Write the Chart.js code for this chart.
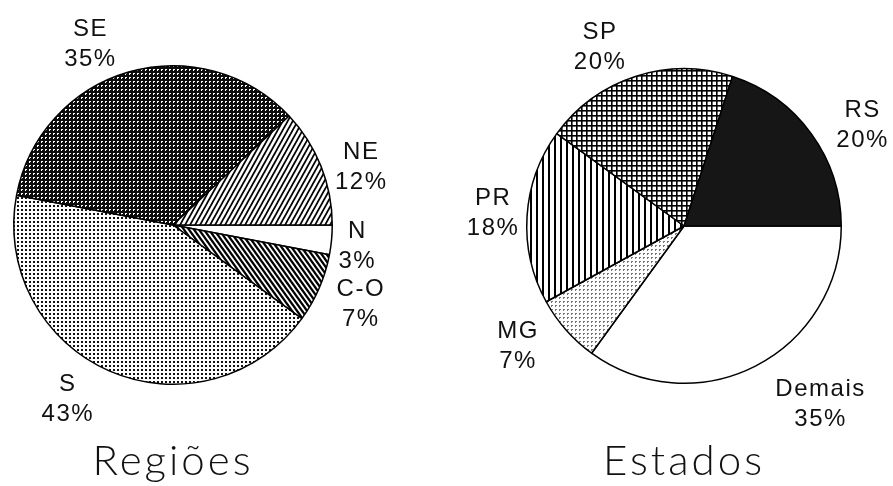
<!DOCTYPE html>
<html>
<head>
<meta charset="utf-8">
<script src="https://cdn.jsdelivr.net/npm/chart.js@4"></script>
<style>
  html, body { margin: 0; padding: 0; background: #fff; }
  #pagina { position: relative; width: 893px; height: 486px; overflow: hidden; }
  canvas { position: absolute; top: 0; }
  #grafico-regioes { left: 0; }
  #grafico-estados { left: 446px; }
</style>
</head>
<body>
<div id="pagina">
  <canvas id="grafico-regioes" width="446" height="486"></canvas>
  <canvas id="grafico-estados" width="447" height="486"></canvas>
</div>
<script>
// Dados (percentuais)
const regioes = ["N", "C-O", "S", "SE", "NE"];
const valoresRegioes = [3, 7, 43, 35, 12];
const estados = ["Demais", "MG", "PR", "SP", "RS"];
const valoresEstados = [35, 7, 18, 20, 20];

// Ajustes finos de posicao dos rotulos (px)
const ajustesRegioes = [[-14, 3], [5, 0], [-26, -8], [-27, 11], [3, 16]];
const ajustesEstados = [[47, 3], [-18, -10], [6, 0], [-23, 9], [19, 15]];

const FONTE_ROTULO = "24px 'Liberation Sans', Arial, sans-serif";
const FONTE_TITULO = "300 42px Lato, 'Liberation Sans', sans-serif";

// Cria um padrao de preenchimento a partir de um ladrilho pequeno
const criarPadrao = (w, h, desenhar) => {
    const ladrilho = document.createElement("canvas");
    ladrilho.width = w;
    ladrilho.height = h;
    const c = ladrilho.getContext("2d");
    c.fillStyle = "#fff";
    c.fillRect(0, 0, w, h);
    desenhar(c, w, h);
    return c.createPattern(ladrilho, "repeat");
};

// Linhas diagonais; sentido 1 = "/", -1 = "\"
const linhasDiagonais = (w, h, espessura, sentido) => criarPadrao(w, h, (c) => {
    c.strokeStyle = "#000";
    c.lineWidth = espessura;
    for (let k = -1; k <= 1; k++) {
        c.beginPath();
        if (sentido > 0) { c.moveTo(k * w - w, 2 * h); c.lineTo(k * w + 2 * w, -h); }
        else { c.moveTo(k * w - w, -h); c.lineTo(k * w + 2 * w, 2 * h); }
        c.stroke();
    }
});

const padroes = {
    // fundo preto com pontinhos brancos
    escuro: criarPadrao(4, 4, (c) => {
        c.fillStyle = "#0d0d0d"; c.fillRect(0, 0, 4, 4);
        c.fillStyle = "#fff"; c.fillRect(1, 1, 2, 1); c.fillRect(1, 2, 1, 1);
    }),
    claro: criarPadrao(4, 4, (c) => { c.fillStyle = "#111"; c.fillRect(1, 1, 2, 2); }),
    cinza: criarPadrao(4, 4, (c) => { c.fillStyle = "#777"; c.fillRect(1, 1, 2, 2); c.fillStyle = "#fff"; c.fillRect(2, 2, 1, 1); }),
    barraNE: linhasDiagonais(5, 9, 1.8, 1),
    barraCO: linhasDiagonais(5, 7, 2.2, -1),
    verticais: criarPadrao(6, 6, (c) => { c.fillStyle = "#000"; c.fillRect(0, 0, 2, 6); }),
    grade: criarPadrao(5, 5, (c) => { c.fillStyle = "#000"; c.fillRect(0, 0, 5, 1.6); c.fillRect(0, 0, 1.6, 5); }),
};

const coresRegioes = ["#fff", padroes.barraCO, padroes.claro, padroes.escuro, padroes.barraNE];
const coresEstados = ["#fff", padroes.cinza, padroes.verticais, padroes.grade, "#161616"];

// Plugin que escreve rotulos e titulo de cada pizza
const rotulosPizza = {
    id: "rotulosPizza",
    afterDraw(chart, args, opts) {
        const ctx = chart.ctx;
        const meta = chart.getDatasetMeta(0);
        const valores = chart.data.datasets[0].data;
        ctx.save();
        ctx.fillStyle = "#111";
        ctx.textAlign = "center";
        ctx.textBaseline = "middle";
        ctx.font = FONTE_ROTULO;
        ctx.letterSpacing = "1.5px";
        let cx = 0;
        meta.data.forEach((arco, i) => {
            const { x, y, startAngle, endAngle, outerRadius } = arco.getProps(["x", "y", "startAngle", "endAngle", "outerRadius"], true);
            cx = x;
            const meio = (startAngle + endAngle) / 2;
            const r = outerRadius + 40;
            const px = x + Math.cos(meio) * r + opts.ajustes[i][0];
            const py = y + Math.sin(meio) * r + opts.ajustes[i][1];
            ctx.fillText(chart.data.labels[i], px, py - 15);
            ctx.fillText(valores[i] + "%", px, py + 15);
        });
        ctx.font = FONTE_TITULO;
        ctx.letterSpacing = "3px";
        ctx.fillText(opts.titulo, cx, 461);
        ctx.restore();
    },
};

const criarPizza = (id, rotulos, valores, cores, padding, titulo, ajustes) => new Chart(document.getElementById(id), {
    type: "pie",
    data: {
        labels: rotulos,
        datasets: [{ data: valores, backgroundColor: cores, borderColor: "#000", borderWidth: 1.5 }],
    },
    options: {
        responsive: false,
        animation: false,
        rotation: 90,
        layout: { padding },
        plugins: {
            legend: { display: false },
            tooltip: { enabled: false },
            rotulosPizza: { titulo, ajustes },
        },
    },
    plugins: [rotulosPizza],
});

criarPizza("grafico-regioes", regioes, valoresRegioes, coresRegioes,
    { left: 13, top: 65, right: 113, bottom: 101 }, "Regiões", ajustesRegioes);
criarPizza("grafico-estados", estados, valoresEstados, coresEstados,
    { left: 80, top: 68, right: 51, bottom: 102 }, "Estados", ajustesEstados);
</script>
</body>
</html>
